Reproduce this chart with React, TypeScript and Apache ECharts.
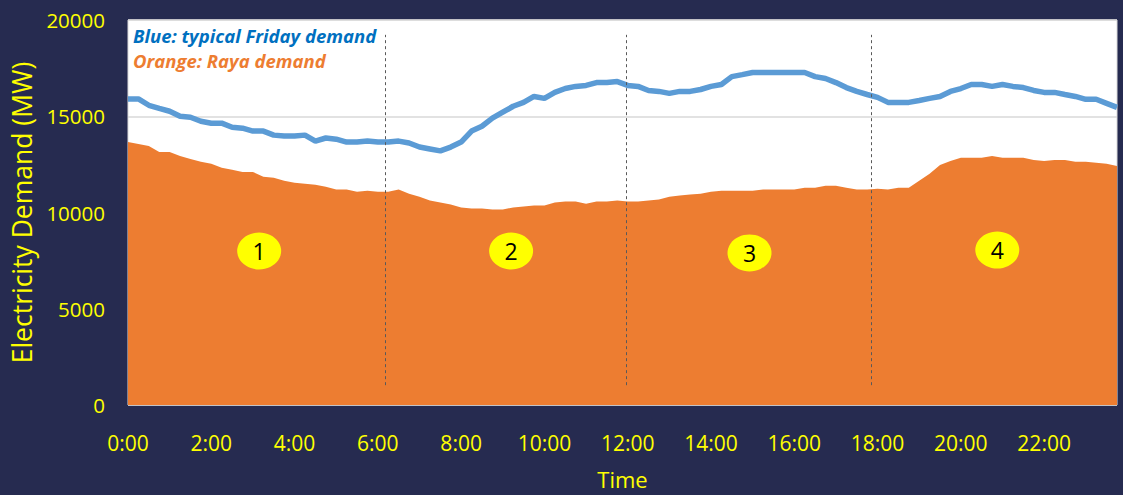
import React, { useEffect, useRef } from "react";
import * as echarts from "echarts";

// 15-minute time categories, 0:00 .. 23:45
const times: string[] = [];
for (let h = 0; h < 24; h++) {
  for (const m of ["00", "15", "30", "45"]) times.push(`${h}:${m}`);
}

// Blue: typical Friday demand (MW)
const fridayDemand = [
  15900, 15900, 15570, 15410, 15260, 15000, 14950, 14740,
  14640, 14640, 14430, 14380, 14230, 14230, 14020, 13970,
  13970, 14020, 13710, 13870, 13810, 13660, 13660, 13710,
  13660, 13660, 13710, 13610, 13400, 13300, 13200, 13400,
  13660, 14230, 14480, 14900, 15210, 15520, 15720, 16030,
  15930, 16240, 16440, 16550, 16600, 16750, 16750, 16800,
  16600, 16550, 16340, 16290, 16190, 16290, 16290, 16390,
  16550, 16650, 17060, 17160, 17270, 17270, 17270, 17270,
  17270, 17270, 17060, 16960, 16750, 16490, 16290, 16130,
  15980, 15720, 15720, 15720, 15820, 15930, 16030, 16290,
  16440, 16650, 16650, 16550, 16650, 16550, 16490, 16340,
  16240, 16240, 16130, 16030, 15880, 15880, 15670, 15460,
];

// Orange: Raya demand (MW)
const rayaDemand = [
  13660, 13560, 13450, 13140, 13140, 12940, 12780, 12630,
  12530, 12320, 12220, 12110, 12110, 11860, 11800, 11650,
  11550, 11490, 11440, 11340, 11190, 11190, 11080, 11130,
  11080, 11080, 11190, 10980, 10820, 10620, 10520, 10410,
  10260, 10210, 10210, 10160, 10160, 10260, 10310, 10360,
  10360, 10520, 10570, 10570, 10460, 10570, 10570, 10620,
  10570, 10570, 10620, 10670, 10820, 10880, 10930, 10980,
  11080, 11130, 11130, 11130, 11130, 11190, 11190, 11190,
  11190, 11290, 11290, 11390, 11390, 11290, 11190, 11190,
  11240, 11190, 11290, 11290, 11650, 12010, 12470, 12680,
  12840, 12840, 12840, 12940, 12840, 12840, 12840, 12730,
  12680, 12730, 12730, 12630, 12630, 12580, 12530, 12420,
];

const periodLabels = ["1", "2", "3", "4"];
const legendLines = ["Blue: typical Friday demand", "Orange: Raya demand"];

const FONT = "'Open Sans', sans-serif";
const YELLOW = "#ffff00";

export default function App() {
  const ref = useRef<HTMLDivElement>(null);
  useEffect(() => {
    if (!ref.current) return;
    const chart = echarts.init(ref.current, undefined, { renderer: "svg" });
    // hand-placed annotation positions (fractional 15-min slot, value)
    const periodCoords = [
      [12.6, 8000],
      [36.8, 8000],
      [59.7, 7900],
      [83.5, 8050],
    ];
    const dividerIdx = [24.7, 47.9, 71.4];
    chart.setOption({
      animation: false,
      backgroundColor: "#262b50",
      textStyle: { fontFamily: FONT },
      grid: {
        left: 128,
        right: 6,
        top: 20,
        bottom: 87,
        show: true,
        backgroundColor: "#ffffff",
        borderColor: "#d9d9d9",
        borderWidth: 1,
      },
      xAxis: [
        {
          type: "category",
          data: times,
          boundaryGap: false,
          axisLine: { show: false },
          axisTick: { show: false },
          axisLabel: {
            interval: 7,
            color: YELLOW,
            fontSize: 21,
            fontFamily: FONT,
            margin: 27,
          },
          splitLine: { show: false },
          name: "Time",
          nameLocation: "middle",
          nameGap: 63,
          nameTextStyle: { color: YELLOW, fontSize: 22, fontFamily: FONT },
        },
        {
          type: "value",
          min: 0,
          max: times.length - 1,
          show: false,
          splitLine: { show: false },
        },
      ],
      yAxis: {
        type: "value",
        min: 0,
        max: 20000,
        interval: 5000,
        axisLine: { show: false },
        axisTick: { show: false },
        axisLabel: {
          color: YELLOW,
          fontSize: 20.5,
          fontFamily: FONT,
          margin: 23,
          formatter: (v: number) => String(v),
        },
        splitLine: { lineStyle: { color: "#d9d9d9", width: 1.5 } },
        name: "Electricity Demand (MW)",
        nameLocation: "middle",
        nameGap: 88,
        nameTextStyle: { color: YELLOW, fontSize: 26.5, fontFamily: FONT },
      },
      graphic: legendLines.map((t, i) => ({
        type: "text",
        left: 133,
        top: 26 + i * 25,
        z: 100,
        style: {
          text: t,
          fill: i === 0 ? "#0070c0" : "#ed7d31",
          font: `italic bold 18.5px ${FONT}`,
        },
      })),
      series: [
        {
          type: "line",
          name: "Raya demand",
          data: rayaDemand,
          symbol: "none",
          lineStyle: { width: 0 },
          areaStyle: { color: "#ed7d31", opacity: 1 },
          itemStyle: { color: "#ed7d31" },
          z: 2,
        },
        {
          type: "line",
          name: "Friday demand",
          data: fridayDemand,
          symbol: "none",
          lineStyle: { color: "#5b9bd5", width: 5.5 },
          itemStyle: { color: "#5b9bd5" },
          z: 3,
        },
        {
          type: "line",
          name: "annotations",
          xAxisIndex: 1,
          data: [],
          symbol: "none",
          z: 4,
          markLine: {
            silent: true,
            symbol: ["none", "none"],
            label: { show: false },
            lineStyle: { color: "#595959", type: [3, 3], width: 1 },
            data: dividerIdx.map((t) => [
              { coord: [t, 1030] },
              { coord: [t, 19230] },
            ]),
          },
          markPoint: {
            silent: true,
            symbol: "circle",
            symbolSize: [44, 37],
            itemStyle: { color: YELLOW },
            label: {
              show: true,
              color: "#000000",
              fontSize: 23,
              fontFamily: FONT,
              formatter: (p: any) => p.name,
            },
            data: periodLabels.map((n, i) => ({ name: n, coord: periodCoords[i] })),
          },
        },
      ],
    });
    return () => chart.dispose();
  }, []);
  return (
    <div
      ref={ref}
      style={{ position: "fixed", left: 0, top: 0, width: 1123, height: 495 }}
    />
  );
}
